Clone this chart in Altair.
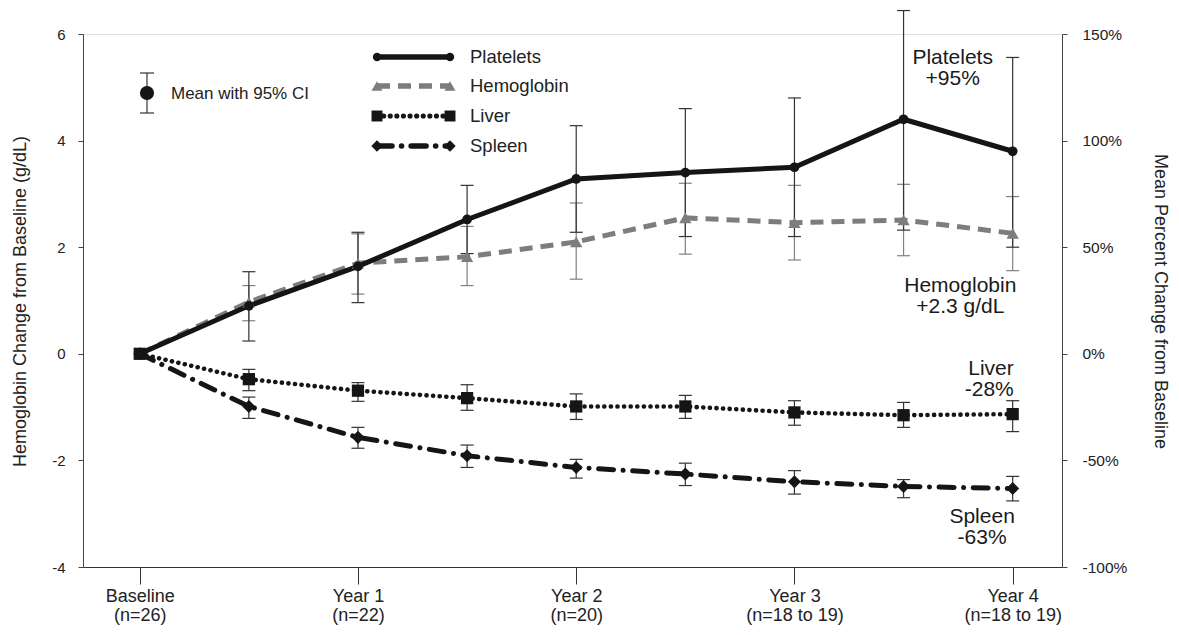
import json
import pandas as pd
import altair as alt

# ---------------- data ----------------
times = [0, 0.5, 1, 1.5, 2, 2.5, 3, 3.5, 4]
tick_years = [0, 1, 2, 3, 4]
tick_names = ["Baseline", "Year 1", "Year 2", "Year 3", "Year 4"]
tick_ns = ["(n=26)", "(n=22)", "(n=20)", "(n=18 to 19)", "(n=18 to 19)"]
left_ticks = [-4, -2, 0, 2, 4, 6]
right_ticks = [-100, -50, 0, 50, 100, 150]

# Platelets: mean % change from baseline, 95% CI
plt_mean = [0, 22.5, 41, 63, 82, 85, 87.5, 110, 95]
plt_lo = [None, 6, 24, 47, 57, 55, 55, 58, 50]
plt_hi = [None, 38.5, 57, 79, 107, 115, 120, 161, 139]

# Hemoglobin: mean change from baseline (g/dL), 95% CI
hgb_mean = [0, 0.97, 1.70, 1.82, 2.10, 2.55, 2.46, 2.51, 2.26]
hgb_lo = [None, 0.62, 1.12, 1.28, 1.40, 1.87, 1.76, 1.84, 1.56]
hgb_hi = [None, 1.28, 2.25, 2.39, 2.83, 3.20, 3.16, 3.18, 2.95]

# Liver volume: mean % change from baseline, 95% CI
liv_mean = [0, -11.9, -17.3, -20.8, -24.7, -24.7, -27.5, -28.8, -28.3]
liv_lo = [None, -17.3, -22.3, -26.5, -30.8, -30.3, -33.5, -34.5, -36.5]
liv_hi = [None, -7.3, -13.5, -14.5, -18.8, -19.5, -22.0, -22.8, -22.0]

# Spleen volume: mean % change from baseline, 95% CI
spl_mean = [0, -24.7, -39.2, -47.8, -53.3, -56.4, -60.0, -62.2, -63.2]
spl_lo = [None, -30.3, -44.3, -53.3, -58.3, -61.8, -65.8, -67.5, -69.0]
spl_hi = [None, -20.3, -34.5, -42.8, -49.5, -51.3, -54.8, -59.0, -57.5]

series_names = ["Platelets", "Hemoglobin", "Liver", "Spleen"]
annot_texts = ["Platelets\n+95%", "Hemoglobin\n+2.3 g/dL", "Liver\n-28%", "Spleen\n-63%"]
ci_label = "Mean with 95% CI"

LEFT_DOMAIN = [-4, 6]
RIGHT_DOMAIN = [-100, 150]
PCT_PER_UNIT = (RIGHT_DOMAIN[1] - RIGHT_DOMAIN[0]) / (LEFT_DOMAIN[1] - LEFT_DOMAIN[0])


def frame(mean, lo, hi, factor=1.0):
    conv = lambda v: None if v is None else v / factor
    return pd.DataFrame({
        "t": times,
        "m": [conv(v) for v in mean],
        "lo": [conv(v) for v in lo],
        "hi": [conv(v) for v in hi],
    })


df_plt = frame(plt_mean, plt_lo, plt_hi, PCT_PER_UNIT)
df_hgb = frame(hgb_mean, hgb_lo, hgb_hi)
df_liv = frame(liv_mean, liv_lo, liv_hi, PCT_PER_UNIT)
df_spl = frame(spl_mean, spl_lo, spl_hi, PCT_PER_UNIT)

# ---------------- scales / axes ----------------
W, H = 979, 533
FONT = "Liberation Sans"
BLACK = "#151515"
GRAY = "#7d7d7d"

x_labels = [[a, b] for a, b in zip(tick_names, tick_ns)]
x_label_expr = json.dumps(x_labels) + "[round(datum.value)]"

x_scale = alt.Scale(domain=[-0.26, 4.226], nice=False, zero=False)
x_axis = alt.Axis(values=tick_years, labelExpr=x_label_expr, title=None, grid=False,
                  tickSize=17, labelPadding=3, labelFontSize=18, labelLineHeight=19,
                  labelColor="#222", domainColor="#333", tickColor="#333",
                  labelOverlap=False, labelFlush=False, labelFont=FONT)
y_scale = alt.Scale(domain=LEFT_DOMAIN, nice=False, zero=False)
y_axis = alt.Axis(values=left_ticks, labelExpr="datum.value", grid=False,
                  title="Hemoglobin Change from Baseline (g/dL)",
                  titleFontSize=18, titleFontWeight="normal", titleColor="#222",
                  titleX=-63, titleY=267, titleAngle=-90, titleBaseline="middle",
                  tickSize=5, labelPadding=13, labelFontSize=15, labelColor="#222",
                  domainColor="#444", tickColor="#444", labelFont=FONT, titleFont=FONT)

X = alt.X("t:Q", scale=x_scale, axis=x_axis)


def Y(field):
    return alt.Y(f"{field}:Q", scale=y_scale, axis=y_axis)


def errorbars(df, color):
    base = alt.Chart(df)
    rule = base.mark_rule(color=color, strokeWidth=1.2, opacity=1).encode(x=X, y=Y("lo"), y2="hi:Q")
    cap_lo = base.mark_tick(color=color, orient="horizontal", size=13, thickness=1.2, opacity=1).encode(x=X, y=Y("lo"))
    cap_hi = base.mark_tick(color=color, orient="horizontal", size=13, thickness=1.2, opacity=1).encode(x=X, y=Y("hi"))
    return [rule, cap_lo, cap_hi]


def line(df, color, **props):
    return alt.Chart(df).mark_line(color=color, **props).encode(x=X, y=Y("m"))


def points(df, color, shape, size):
    return alt.Chart(df).mark_point(shape=shape, size=size, filled=True, color=color,
                                    opacity=1, strokeWidth=0).encode(x=X, y=Y("m"))


style = {
    "Platelets": dict(color=BLACK, line=dict(strokeWidth=5), shape="circle", size=95, lsize=70),
    "Hemoglobin": dict(color=GRAY, line=dict(strokeWidth=5, strokeDash=[13, 8]), shape="triangle-up", size=150, lsize=120),
    "Liver": dict(color=BLACK, line=dict(strokeWidth=4.6, strokeDash=[0.1, 6.5], strokeCap="round"), shape="square", size=150, lsize=120),
    "Spleen": dict(color=BLACK, line=dict(strokeWidth=5, strokeDash=[15, 9.5, 0.1, 9.5], strokeCap="round"), shape="diamond", size=170, lsize=130),
}
frames = {"Platelets": df_plt, "Hemoglobin": df_hgb, "Liver": df_liv, "Spleen": df_spl}

layers = []
layers += errorbars(df_hgb, "#808080")
layers += errorbars(df_spl, "#333333")
layers += errorbars(df_liv, "#333333")
layers += errorbars(df_plt, "#333333")
for name in ["Hemoglobin", "Spleen", "Liver", "Platelets"]:
    s = style[name]
    layers.append(line(frames[name], s["color"], **s["line"]))
for name in ["Hemoglobin", "Spleen", "Liver", "Platelets"]:
    s = style[name]
    layers.append(points(frames[name], s["color"], s["shape"], s["size"]))

# ---------------- legend (pixel positions inside plot) ----------------
LEG_X0, LEG_X1, LEG_TX = 294, 367, 387
leg_y = [23, 52, 82, 112]
for name, yy in zip(series_names, leg_y):
    s = style[name]
    one = alt.Chart(pd.DataFrame({"label": [name]}))
    lp = dict(s["line"])
    lp["strokeWidth"] = lp.get("strokeWidth", 4) + 0.5
    layers.append(one.mark_rule(color=s["color"], **lp).encode(
        x=alt.value(LEG_X0), x2=alt.value(LEG_X1), y=alt.value(yy)))
    for xx in (LEG_X0, LEG_X1):
        layers.append(one.mark_point(shape=s["shape"], size=s["lsize"], filled=True, color=s["color"],
                                     opacity=1, strokeWidth=0).encode(x=alt.value(xx), y=alt.value(yy)))
    layers.append(one.mark_text(align="left", baseline="middle", fontSize=18.5, color="#222", font=FONT).encode(
        x=alt.value(LEG_TX), y=alt.value(yy), text="label:N"))

ci = alt.Chart(pd.DataFrame({"label": [ci_label]}))
CI_X, CI_Y0, CI_Y1, CI_YM = 64, 39, 79, 59
layers.append(ci.mark_rule(color="#333", strokeWidth=1.2).encode(x=alt.value(CI_X), y=alt.value(CI_Y0), y2=alt.value(CI_Y1)))
for yy in (CI_Y0, CI_Y1):
    layers.append(ci.mark_rule(color="#333", strokeWidth=1.2).encode(
        x=alt.value(CI_X - 7), x2=alt.value(CI_X + 7), y=alt.value(yy)))
layers.append(ci.mark_point(shape="circle", size=200, filled=True, color=BLACK, opacity=1, strokeWidth=0).encode(
    x=alt.value(CI_X), y=alt.value(CI_YM)))
layers.append(ci.mark_text(align="left", baseline="middle", fontSize=17, color="#222", font=FONT).encode(
    x=alt.value(CI_X + 24), y=alt.value(CI_YM + 1), text="label:N"))

# ---------------- end-of-series annotations ----------------
annot_pos = [(3.725, 5.44, "center"), (3.76, 1.16, "center"), (4.005, -0.39, "right"), (3.86, -3.17, "center")]
for txt, (ax, ay, al) in zip(annot_texts, annot_pos):
    layers.append(alt.Chart(pd.DataFrame({"label": [txt]})).mark_text(
        align=al, baseline="alphabetic", fontSize=21, lineBreak="\n", lineHeight=21,
        color="#1a1a1a", font=FONT).encode(
        x=alt.datum(ax), y=alt.datum(ay), text="label:N"))

main = alt.layer(*layers)

# ---------------- right-hand percent axis ----------------
right = alt.Chart(pd.DataFrame({"pct": right_ticks})).mark_point(opacity=0).encode(
    y=alt.Y("pct:Q", scale=alt.Scale(domain=RIGHT_DOMAIN, nice=False, zero=False),
            axis=alt.Axis(orient="right", values=right_ticks, labelExpr="datum.value + '%'",
                          grid=False, title="Mean Percent Change from Baseline",
                          titleFontSize=18, titleFontWeight="normal", titleColor="#222",
                          titleX=97, titleY=267, titleAngle=90, titleBaseline="middle",
                          tickSize=5, labelPadding=15, labelFontSize=15.5, labelColor="#222",
                          domainColor="#444", tickColor="#444", labelFont=FONT, titleFont=FONT))
)

chart = alt.layer(main, right).resolve_scale(y="independent").properties(
    width=W, height=H,
    padding={"left": 75, "top": 26, "right": 108, "bottom": 59},
    autosize=alt.AutoSizeParams(type="none"),
).configure_view(stroke=None).configure(font=FONT, background="white")

chart.save("out.html", embed_options={"renderer": "svg", "actions": False})
